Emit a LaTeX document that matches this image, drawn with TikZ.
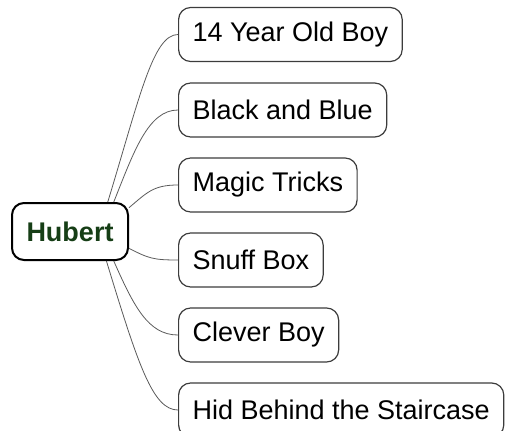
\documentclass[tikz,border=0pt]{standalone}
\usepackage{fontspec}
\setmainfont{Liberation Sans}
\definecolor{hubgreen}{RGB}{22,62,22}
\definecolor{edgegray}{RGB}{60,60,60}
\definecolor{linegray}{RGB}{90,90,90}

\begin{document}
\begin{tikzpicture}[x=1pt,y=-1pt,
  topic/.style={draw=edgegray,line width=1.2pt,rounded corners=12pt,anchor=west,
    minimum height=54pt,inner xsep=14pt,font=\fontsize{27}{32}\selectfont},
  root/.style={draw=black,line width=2pt,rounded corners=12pt,minimum width=116pt,
    minimum height=57pt,inner sep=0pt,text=hubgreen,font=\fontsize{27}{32}\selectfont\bfseries},
  branch/.style={draw=linegray,line width=0.8pt}]
  \useasboundingbox (0,0) rectangle (506,431);
  \node[root] (hub) at (70,231.5) {Hubert};
  \node[topic] (age) at (178,34.5) {14 Year Old Boy};
  \node[topic] (bruise) at (178,110) {Black and Blue};
  \node[topic] (magic) at (178,185) {Magic Tricks};
  \node[topic] (snuff) at (178,260) {Snuff Box};
  \node[topic] (clever) at (178,335) {Clever Boy};
  \node[topic] (stairs) at (178,410) {Hid Behind the Staircase};
  \draw[branch] (hub.38) .. controls +(32,-105) and +(-25,0) .. (age.west);
  \draw[branch] (hub.34) .. controls +(20,-50) and +(-30,0) .. (bruise.west);
  \draw[branch] (hub.22) .. controls +(18,-15) and +(-25,0) .. (magic.west);
  \draw[branch] (hub.-16) .. controls +(20,10) and +(-25,0) .. (snuff.west);
  \draw[branch] (hub.-34) .. controls +(20,45) and +(-30,0) .. (clever.west);
  \draw[branch] (hub.-39) .. controls +(32,105) and +(-25,0) .. (stairs.west);
\end{tikzpicture}
\end{document}
